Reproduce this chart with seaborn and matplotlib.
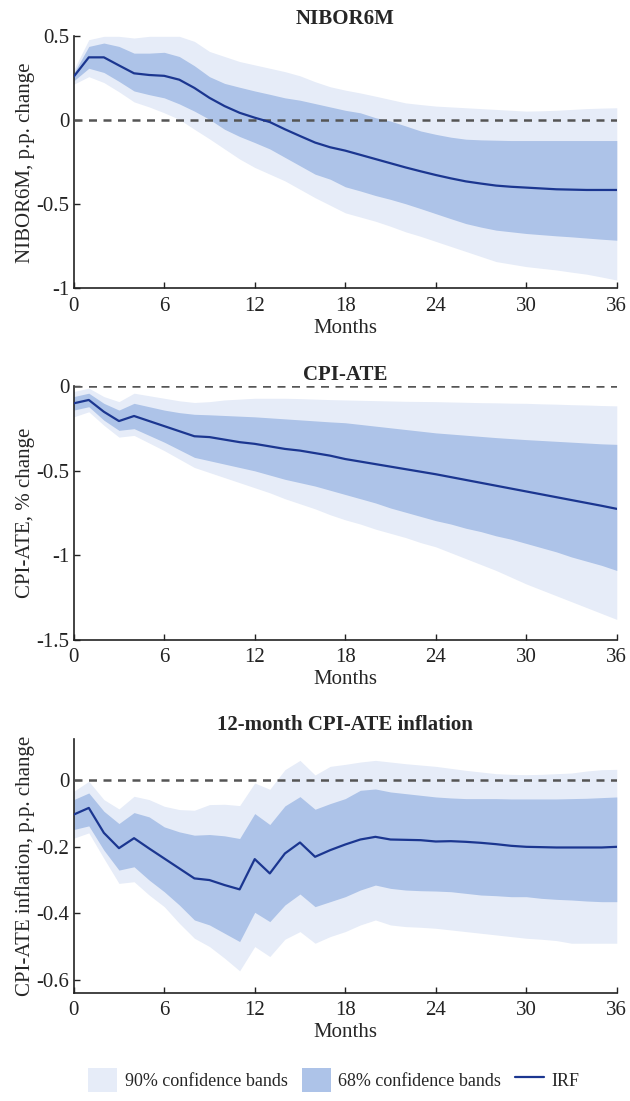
import numpy as np
import pandas as pd
import matplotlib
matplotlib.use("Agg")
import matplotlib.pyplot as plt
import seaborn as sns
from matplotlib.patches import Patch
from matplotlib.lines import Line2D

months = list(range(37))

# ---------------- NIBOR6M ----------------
nibor_irf = [0.26, 0.375, 0.375, 0.327, 0.28, 0.27, 0.265, 0.242, 0.193, 0.134, 0.085, 0.045, 0.016,
             -0.01, -0.053, -0.093, -0.132, -0.16, -0.18, -0.205, -0.23, -0.255, -0.28, -0.303, -0.325,
             -0.345, -0.363, -0.376, -0.388, -0.395, -0.40, -0.405, -0.41, -0.412, -0.414, -0.414, -0.414]
nibor_68_up = [0.28, 0.44, 0.46, 0.44, 0.40, 0.40, 0.405, 0.38, 0.325, 0.26, 0.22, 0.197, 0.175,
               0.155, 0.134, 0.12, 0.1, 0.08, 0.06, 0.045, 0.016, -0.004, -0.033, -0.063, -0.083,
               -0.10, -0.112, -0.116, -0.118, -0.12, -0.12, -0.12, -0.12, -0.12, -0.12, -0.12, -0.12]
nibor_68_lo = [0.235, 0.31, 0.285, 0.232, 0.175, 0.153, 0.134, 0.098, 0.055, 0.006, -0.053, -0.096, -0.132,
               -0.17, -0.22, -0.27, -0.32, -0.35, -0.395, -0.42, -0.447, -0.47, -0.496, -0.525, -0.555,
               -0.585, -0.614, -0.635, -0.653, -0.663, -0.673, -0.68, -0.687, -0.693, -0.70, -0.707, -0.713]
nibor_90_up = [0.30, 0.48, 0.50, 0.50, 0.49, 0.50, 0.50, 0.50, 0.47, 0.41, 0.38, 0.35, 0.33,
               0.31, 0.29, 0.265, 0.23, 0.20, 0.18, 0.163, 0.144, 0.124, 0.104, 0.094, 0.085,
               0.08, 0.075, 0.07, 0.065, 0.06, 0.055, 0.057, 0.06, 0.065, 0.07, 0.073, 0.075]
nibor_90_lo = [0.215, 0.26, 0.225, 0.17, 0.11, 0.08, 0.045, 0.006, -0.053, -0.11, -0.17, -0.23, -0.28,
               -0.32, -0.36, -0.41, -0.46, -0.505, -0.55, -0.575, -0.60, -0.63, -0.663, -0.69, -0.72,
               -0.75, -0.78, -0.81, -0.84, -0.855, -0.87, -0.88, -0.89, -0.903, -0.915, -0.932, -0.95]

# ---------------- CPI-ATE ----------------
cpi_irf = [-0.10, -0.08, -0.15, -0.205, -0.175, -0.205, -0.235, -0.265, -0.295, -0.30, -0.315, -0.33, -0.34,
           -0.355, -0.37, -0.38, -0.395, -0.41, -0.43, -0.445, -0.46, -0.475, -0.49, -0.505, -0.52,
           -0.537, -0.554, -0.571, -0.588, -0.605, -0.622, -0.639, -0.656, -0.673, -0.69, -0.707, -0.725]
cpi_68_up = [-0.06, -0.04, -0.10, -0.14, -0.10, -0.12, -0.14, -0.155, -0.165, -0.168, -0.172, -0.176, -0.18,
             -0.186, -0.192, -0.198, -0.204, -0.21, -0.215, -0.225, -0.235, -0.245, -0.255, -0.265, -0.275,
             -0.282, -0.289, -0.296, -0.303, -0.309, -0.315, -0.32, -0.325, -0.33, -0.335, -0.34, -0.343]
cpi_68_lo = [-0.14, -0.12, -0.20, -0.26, -0.25, -0.29, -0.33, -0.375, -0.42, -0.44, -0.46, -0.48, -0.50,
             -0.525, -0.55, -0.57, -0.59, -0.615, -0.64, -0.665, -0.69, -0.72, -0.745, -0.77, -0.795,
             -0.815, -0.84, -0.86, -0.885, -0.905, -0.93, -0.955, -0.98, -1.01, -1.035, -1.06, -1.09]
cpi_90_up = [-0.03, -0.01, -0.06, -0.09, -0.04, -0.055, -0.07, -0.085, -0.095, -0.09, -0.08, -0.075, -0.07,
             -0.07, -0.07, -0.072, -0.075, -0.078, -0.08, -0.082, -0.084, -0.086, -0.088, -0.089, -0.09,
             -0.092, -0.094, -0.096, -0.097, -0.099, -0.10, -0.103, -0.105, -0.108, -0.11, -0.113, -0.115]
cpi_90_lo = [-0.18, -0.15, -0.23, -0.30, -0.29, -0.335, -0.38, -0.43, -0.48, -0.51, -0.54, -0.57, -0.60,
             -0.63, -0.665, -0.695, -0.725, -0.76, -0.79, -0.815, -0.845, -0.87, -0.895, -0.925, -0.95,
             -0.985, -1.02, -1.055, -1.09, -1.13, -1.17, -1.205, -1.24, -1.275, -1.31, -1.345, -1.38]

# ---------------- 12-month CPI-ATE inflation ----------------
inf_irf = [-0.103, -0.083, -0.158, -0.204, -0.174, -0.205, -0.235, -0.265, -0.295, -0.30, -0.315, -0.328, -0.237,
           -0.28, -0.22, -0.187, -0.23, -0.21, -0.193, -0.178, -0.17, -0.178, -0.179, -0.18, -0.184,
           -0.183, -0.185, -0.188, -0.192, -0.197, -0.20, -0.201, -0.202, -0.202, -0.202, -0.202, -0.20]
inf_68_up = [-0.058, -0.038, -0.093, -0.13, -0.097, -0.11, -0.14, -0.155, -0.165, -0.163, -0.167, -0.175, -0.10,
             -0.133, -0.077, -0.049, -0.087, -0.07, -0.055, -0.03, -0.026, -0.035, -0.04, -0.045, -0.05,
             -0.053, -0.055, -0.055, -0.055, -0.056, -0.056, -0.056, -0.056, -0.055, -0.054, -0.052, -0.05]
inf_68_lo = [-0.148, -0.137, -0.21, -0.27, -0.26, -0.30, -0.335, -0.375, -0.42, -0.435, -0.46, -0.485, -0.397,
             -0.425, -0.375, -0.342, -0.38, -0.365, -0.35, -0.33, -0.315, -0.325, -0.33, -0.332, -0.333,
             -0.335, -0.34, -0.345, -0.347, -0.35, -0.35, -0.355, -0.358, -0.36, -0.363, -0.365, -0.365]
inf_90_up = [-0.033, -0.003, -0.058, -0.086, -0.048, -0.058, -0.078, -0.088, -0.09, -0.073, -0.072, -0.076, -0.008,
             -0.027, 0.032, 0.06, 0.016, 0.042, 0.048, 0.055, 0.06, 0.055, 0.05, 0.046, 0.042,
             0.036, 0.03, 0.025, 0.02, 0.018, 0.017, 0.018, 0.02, 0.022, 0.028, 0.032, 0.033]
inf_90_lo = [-0.174, -0.158, -0.235, -0.31, -0.305, -0.345, -0.38, -0.43, -0.475, -0.50, -0.535, -0.573, -0.50,
             -0.53, -0.478, -0.455, -0.49, -0.47, -0.455, -0.435, -0.42, -0.435, -0.44, -0.442, -0.445,
             -0.45, -0.455, -0.46, -0.465, -0.47, -0.475, -0.478, -0.482, -0.49, -0.49, -0.49, -0.49]

titles = ["NIBOR6M", "CPI-ATE", "12-month CPI-ATE inflation"]
ylabels = ["NIBOR6M, p.p. change", "CPI-ATE, % change", "CPI-ATE inflation, p.p. change"]
xticks = [0, 6, 12, 18, 24, 30, 36]
yticks_list = [[-1, -0.5, 0, 0.5], [-1.5, -1, -0.5, 0], [-0.6, -0.4, -0.2, 0]]
ytick_labels = [["-1", "-0.5", "0", "0.5"], ["-1.5", "-1", "-0.5", "0"], ["-0.6", "-0.4", "-0.2", "0"]]
ylims = [(-1.0, 0.5), (-1.5, 0.0), (-0.64, 0.125)]
legend_labels = ["90% confidence bands", "68% confidence bands", "IRF"]

panels = [
    (nibor_irf, nibor_68_up, nibor_68_lo, nibor_90_up, nibor_90_lo),
    (cpi_irf, cpi_68_up, cpi_68_lo, cpi_90_up, cpi_90_lo),
    (inf_irf, inf_68_up, inf_68_lo, inf_90_up, inf_90_lo),
]

c90 = "#e6ecf8"
c68 = "#adc3e8"
cline = "#1b3690"
FS = 15

sns.set_style("ticks")
plt.rcParams["font.family"] = ["Liberation Serif", "DejaVu Serif"]
plt.rcParams["axes.unicode_minus"] = False
plt.rcParams["xtick.direction"] = "in"
plt.rcParams["ytick.direction"] = "in"

fig = plt.figure(figsize=(6.3, 11.01), dpi=100)
rects = [
    [0.117, 0.738, 0.862, 0.229],
    [0.117, 0.419, 0.862, 0.230],
    [0.117, 0.098, 0.862, 0.231],
]
title_pads = [9, 5, 6]

for i, (irf, u68, l68, u90, l90) in enumerate(panels):
    ax = fig.add_axes(rects[i])
    df = pd.DataFrame({"Months": months, "irf": irf})
    ax.fill_between(months, l90, u90, color=c90, linewidth=0, zorder=1)
    ax.fill_between(months, l68, u68, color=c68, linewidth=0, zorder=2)
    ax.axhline(0, color="#555555", linestyle=(0, (3.2, 2.6)), linewidth=1.8, zorder=3)
    sns.lineplot(data=df, x="Months", y="irf", ax=ax, color=cline, linewidth=1.6, zorder=4)
    ax.set_xlim(0, 36)
    ax.set_ylim(*ylims[i])
    ax.set_xticks(xticks)
    ax.set_xticklabels([str(t) for t in xticks], fontsize=FS)
    ax.set_yticks(yticks_list[i])
    ax.set_yticklabels(ytick_labels[i], fontsize=FS)
    ax.set_xlabel("Months", fontsize=FS, labelpad=2)
    ax.set_ylabel(ylabels[i], fontsize=FS, labelpad=1)
    ax.set_title(titles[i], fontsize=FS, fontweight="bold", pad=title_pads[i])
    ax.tick_params(length=4, width=1, colors="#222222")
    ax.tick_params(axis="x", pad=6)
    ax.tick_params(axis="y", pad=3)
    sns.despine(ax=ax)
    for s in ["left", "bottom"]:
        ax.spines[s].set_linewidth(1.2)
        ax.spines[s].set_color("#222222")

handles = [
    Patch(facecolor=c90, edgecolor="none"),
    Patch(facecolor=c68, edgecolor="none"),
    Line2D([0], [0], color=cline, linewidth=1.6),
]
fig.legend(handles, legend_labels, loc="center", bbox_to_anchor=(0.53, 0.019), ncol=3,
           frameon=False, fontsize=13, handlelength=1.6, handleheight=1.6, columnspacing=0.8,
           handletextpad=0.4)

fig.savefig("out.png", dpi=100)
